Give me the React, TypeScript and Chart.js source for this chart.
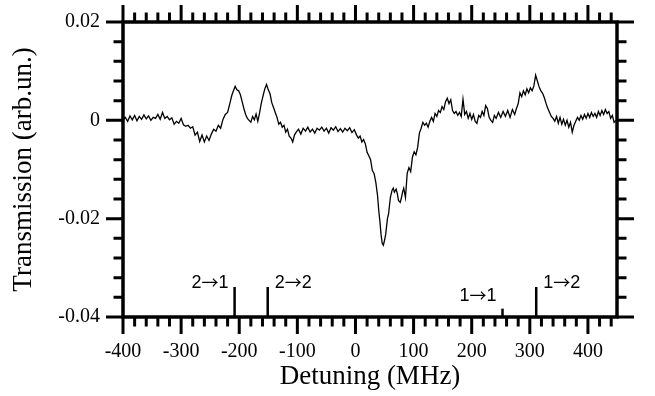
import React, { useEffect, useRef } from 'react';
import { Chart, registerables } from 'chart.js';

Chart.register(...registerables);

// ---------- data ----------
const detuning = [
  -400, -396, -392, -388, -384, -380, -376, -372, -368, -364, -360, -356, -352, -348, -344, -340,
  -336, -332, -328, -324, -320, -316, -312, -308, -304, -300, -296, -292, -288, -284, -280, -276,
  -272, -268, -264, -260, -256, -252, -248, -244, -240, -236, -232, -228, -224, -220, -216, -213,
  -210, -207, -204, -201, -198, -195, -192, -189, -186, -183, -180, -177, -174, -171, -168, -165,
  -162, -159, -156, -153, -150, -147, -144, -141, -138, -135, -132, -129, -126, -123, -120, -117,
  -114, -111, -108, -105, -102, -98, -94, -90, -86, -82, -78, -74, -70, -66, -62, -58,
  -54, -50, -46, -42, -38, -34, -30, -26, -22, -18, -14, -10, -6, -2, 2, 5,
  8, 11, 14, 17, 20, 23, 26, 29, 32, 35, 38, 40, 42, 44, 46, 48,
  50, 52, 55, 57, 60, 63, 65, 67, 70, 72, 74, 77, 79, 81, 83, 86,
  89, 92, 95, 98, 101, 104, 107, 110, 113, 116, 119, 122, 125, 128, 131, 134,
  137, 140, 143, 146, 149, 152, 155, 158, 161, 164, 167, 170, 173, 176, 179, 182,
  185, 188, 191, 194, 197, 200, 203, 206, 209, 212, 215, 218, 221, 224, 227, 230,
  233, 236, 239, 242, 246, 250, 254, 258, 262, 266, 270, 274, 277, 280, 283, 286,
  289, 292, 295, 298, 301, 304, 307, 310, 313, 316, 319, 322, 325, 328, 331, 334,
  337, 340, 343, 346, 349, 352, 355, 358, 361, 364, 367, 370, 373, 376, 379, 382,
  385, 388, 391, 394, 397, 400, 403, 406, 409, 412, 415, 418, 421, 424, 427, 430,
  433, 436, 439, 442, 445, 448,
];

const transmission = [
  0.0000, 0.0006, -0.0002, 0.0009, 0.0001, 0.0010, -0.0001, 0.0008, 0.0002, 0.0011, 0.0003, 0.0009, 0.0000, 0.0006, 0.0004, 0.0012,
  0.0002, 0.0016, 0.0004, 0.0008, 0.0001, 0.0005, -0.0008, -0.0002, -0.0006, 0.0004, -0.0009, -0.0012, -0.0010, -0.0016, -0.0013, -0.0030,
  -0.0024, -0.0043, -0.0030, -0.0044, -0.0032, -0.0041, -0.0028, -0.0018, -0.0022, -0.0010, -0.0016, 0.0002, 0.0012, 0.0016, 0.0035, 0.0050,
  0.0060, 0.0069, 0.0062, 0.0060, 0.0052, 0.0038, 0.0024, 0.0012, 0.0004, 0.0000, -0.0004, 0.0008, 0.0001, 0.0013, -0.0002, 0.0015,
  0.0035, 0.0050, 0.0064, 0.0073, 0.0062, 0.0054, 0.0036, 0.0026, 0.0016, 0.0006, -0.0008, -0.0004, -0.0014, -0.0010, -0.0024, -0.0018,
  -0.0032, -0.0036, -0.0044, -0.0030, -0.0024, -0.0018, -0.0028, -0.0016, -0.0022, -0.0014, -0.0024, -0.0018, -0.0026, -0.0016, -0.0020, -0.0014,
  -0.0022, -0.0016, -0.0026, -0.0015, -0.0020, -0.0013, -0.0023, -0.0017, -0.0024, -0.0016, -0.0021, -0.0015, -0.0025, -0.0019, -0.0030, -0.0036,
  -0.0032, -0.0044, -0.0039, -0.0048, -0.0065, -0.0072, -0.0080, -0.0102, -0.0108, -0.0126, -0.0153, -0.0183, -0.0205, -0.0232, -0.0250, -0.0254,
  -0.0244, -0.0232, -0.0200, -0.0190, -0.0157, -0.0142, -0.0138, -0.0146, -0.0140, -0.0149, -0.0163, -0.0167, -0.0158, -0.0146, -0.0138, -0.0157,
  -0.0108, -0.0096, -0.0104, -0.0075, -0.0064, -0.0070, -0.0055, -0.0026, -0.0016, -0.0004, -0.0010, -0.0006, -0.0014, -0.0002, 0.0006, -0.0002,
  0.0014, 0.0008, 0.0020, 0.0016, 0.0028, 0.0022, 0.0038, 0.0045, 0.0034, 0.0042, 0.0020, 0.0014, 0.0018, 0.0010, 0.0016, 0.0008,
  0.0043, 0.0012, 0.0018, 0.0004, 0.0014, 0.0002, 0.0012, -0.0002, -0.0006, 0.0010, 0.0006, 0.0018, 0.0010, 0.0030, 0.0024, 0.0006,
  0.0000, -0.0004, 0.0010, 0.0004, 0.0016, 0.0006, 0.0018, 0.0008, 0.0020, 0.0006, 0.0022, 0.0012, 0.0024, 0.0034, 0.0056, 0.0048,
  0.0060, 0.0052, 0.0064, 0.0056, 0.0066, 0.0060, 0.0070, 0.0092, 0.0080, 0.0068, 0.0060, 0.0055, 0.0046, 0.0034, 0.0024, 0.0016,
  0.0008, 0.0004, -0.0002, 0.0008, -0.0006, 0.0006, -0.0008, 0.0002, -0.0010, 0.0000, -0.0014, -0.0004, -0.0024, -0.0010, -0.0002, 0.0006,
  0.0000, 0.0010, 0.0002, 0.0012, 0.0004, 0.0014, 0.0006, 0.0016, 0.0008, 0.0014, 0.0006, 0.0018, 0.0010, 0.0020, 0.0012, 0.0022,
  0.0014, 0.0018, 0.0004, 0.0010, -0.0004, 0.0000,
];

const xTickValues = [-400, -300, -200, -100, 0, 100, 200, 300, 400];
const xTickLabels = ['-400', '-300', '-200', '-100', '0', '100', '200', '300', '400'];
const yTickValues = [-0.04, -0.02, 0, 0.02];
const yTickLabels = ['-0.04', '-0.02', '0', '0.02'];

const transitionLabels = ['2→1', '2→2', '1→1', '1→2'];
const transitionPos = [-208, -151, 253, 311];
const transitionTop = [-0.0339, -0.0339, -0.0383, -0.0339];

// ---------- style ----------
const X_MIN = -400;
const X_MAX = 450;
const Y_MIN = -0.04;
const Y_MAX = 0.02;
const X_MINOR_STEP = 20;
const Y_MINOR_STEP = 0.004;
const labelSide = ['left', 'right', 'left', 'right'];
const labelLift = [4, 4, 13, 4];
const SERIF = '"Liberation Serif", "Times New Roman", Times, serif';
const SANS = '"Liberation Sans", Arial, Helvetica, sans-serif';
const ARROW_FONT = '"Noto Sans CJK JP", "DejaVu Sans", sans-serif';

function drawLabel(ctx: any, text: string, x: number, y: number, align: 'left' | 'right') {
  // digits in a Helvetica-like face, arrow in a face with a long arrow glyph
  const parts = Array.from(text).map((ch) => ({
    ch,
    font: ch === '→' ? '17px ' + ARROW_FONT : '18px ' + SANS,
  }));
  let total = 0;
  const widths = parts.map((p) => {
    ctx.font = p.font;
    const w = ctx.measureText(p.ch).width;
    total += w;
    return w;
  });
  let cx = align === 'left' ? x : x - total;
  ctx.textAlign = 'left';
  ctx.textBaseline = 'middle';
  parts.forEach((p, i) => {
    ctx.font = p.font;
    ctx.fillText(p.ch, cx, y);
    cx += widths[i];
  });
}

const framePlugin = {
  id: 'frameTicks',
  afterDatasetsDraw(chart: any) {
    const { ctx, chartArea, scales } = chart;
    const { left, right, top, bottom } = chartArea;
    const xs = scales.x;
    const ys = scales.y;
    ctx.save();
    ctx.strokeStyle = '#000';
    ctx.lineCap = 'butt';
    // ticks
    ctx.lineWidth = 3;
    const MAJ = 17;
    const MIN = 9.5;
    for (let i = 0; X_MIN + i * X_MINOR_STEP < X_MAX - 1e-9; i++) {
      const v = X_MIN + i * X_MINOR_STEP;
      const isMajor = xTickValues.some((t) => Math.abs(t - v) < 1e-6);
      const len = isMajor ? MAJ : MIN;
      const px = xs.getPixelForValue(v);
      ctx.beginPath();
      ctx.moveTo(px, bottom);
      ctx.lineTo(px, bottom + len);
      ctx.moveTo(px, top);
      ctx.lineTo(px, top - len);
      ctx.stroke();
    }
    for (let i = 0; Y_MIN + i * Y_MINOR_STEP <= Y_MAX + 1e-9; i++) {
      const v = Y_MIN + i * Y_MINOR_STEP;
      const isMajor = yTickValues.some((t) => Math.abs(t - v) < 1e-9);
      const len = isMajor ? MAJ : MIN;
      const py = ys.getPixelForValue(v);
      ctx.beginPath();
      ctx.moveTo(left, py);
      ctx.lineTo(left - len, py);
      ctx.moveTo(right, py);
      ctx.lineTo(right + len, py);
      ctx.stroke();
    }
    // frame
    ctx.lineWidth = 3.5;
    ctx.lineJoin = 'miter';
    ctx.strokeRect(left, top, right - left, bottom - top);

    // transition labels
    ctx.fillStyle = '#000';
    transitionLabels.forEach((lab, i) => {
      const px = xs.getPixelForValue(transitionPos[i]);
      const py = ys.getPixelForValue(transitionTop[i]);
      if (labelSide[i] === 'left') {
        drawLabel(ctx, lab, px - 6, py - labelLift[i], 'right');
      } else {
        drawLabel(ctx, lab, px + 7, py - labelLift[i], 'left');
      }
    });
    ctx.restore();
  },
};

export default function App() {
  const canvasRef = useRef<HTMLCanvasElement | null>(null);

  useEffect(() => {
    if (!canvasRef.current) return;
    const lineData = detuning.map((x, i) => ({ x, y: transmission[i] }));
    const transitionSets = transitionPos.map((p, i) => ({
      type: 'line' as const,
      data: [
        { x: p, y: Y_MIN },
        { x: p, y: transitionTop[i] },
      ],
      borderColor: '#000',
      borderWidth: 2.5,
      pointRadius: 0,
      fill: false,
    }));

    const chart = new Chart(canvasRef.current, {
      type: 'line',
      data: {
        datasets: [
          {
            data: lineData,
            borderColor: '#000',
            borderWidth: 1.3,
            pointRadius: 0,
            fill: false,
            tension: 0,
          },
          ...transitionSets,
        ],
      },
      options: {
        responsive: false,
        animation: false,
        events: [],
        layout: { padding: { top: 22, right: 38, left: 0, bottom: 0 } },
        plugins: {
          legend: { display: false },
          tooltip: { enabled: false },
          title: { display: false },
        },
        scales: {
          x: {
            type: 'linear',
            min: X_MIN,
            max: X_MAX,
            afterBuildTicks: (scale: any) => {
              scale.ticks = xTickValues.map((value) => ({ value }));
            },
            afterFit: (scale: any) => {
              scale.height = 79;
              scale.paddingLeft = 0;
              scale.paddingRight = 0;
              scale.paddingTop = 0;
              scale.paddingBottom = 0;
            },
            grid: { display: false, drawTicks: false },
            border: { display: false },
            ticks: {
              autoSkip: false,
              maxRotation: 0,
              padding: 23,
              color: '#000',
              font: { family: SERIF, size: 20 },
              callback: (v: any) => xTickLabels[xTickValues.indexOf(v)] ?? '',
            },
            title: {
              display: true,
              text: 'Detuning (MHz)',
              color: '#000',
              font: { family: SERIF, size: 27 },
              padding: { top: 0, bottom: 3 },
            },
          },
          y: {
            type: 'linear',
            min: Y_MIN,
            max: Y_MAX,
            afterBuildTicks: (scale: any) => {
              scale.ticks = yTickValues.map((value) => ({ value }));
            },
            afterFit: (scale: any) => {
              scale.width = 123;
              scale.paddingLeft = 0;
              scale.paddingRight = 0;
              scale.paddingTop = 0;
              scale.paddingBottom = 0;
            },
            grid: { display: false, drawTicks: false },
            border: { display: false },
            ticks: {
              padding: 23,
              color: '#000',
              font: { family: SERIF, size: 20 },
              callback: (v: any) => yTickLabels[yTickValues.indexOf(v)] ?? '',
            },
            title: {
              display: true,
              text: 'Transmission (arb.un.)',
              color: '#000',
              font: { family: SERIF, size: 27 },
              padding: { top: 8, bottom: 0 },
            },
          },
        },
      } as any,
      plugins: [framePlugin],
    });

    return () => {
      chart.destroy();
    };
  }, []);

  return (
    <div style={{ position: 'absolute', left: 0, top: 0, width: 655, height: 396, background: '#fff' }}>
      <canvas ref={canvasRef} width={655} height={396} style={{ display: 'block' }} />
    </div>
  );
}
